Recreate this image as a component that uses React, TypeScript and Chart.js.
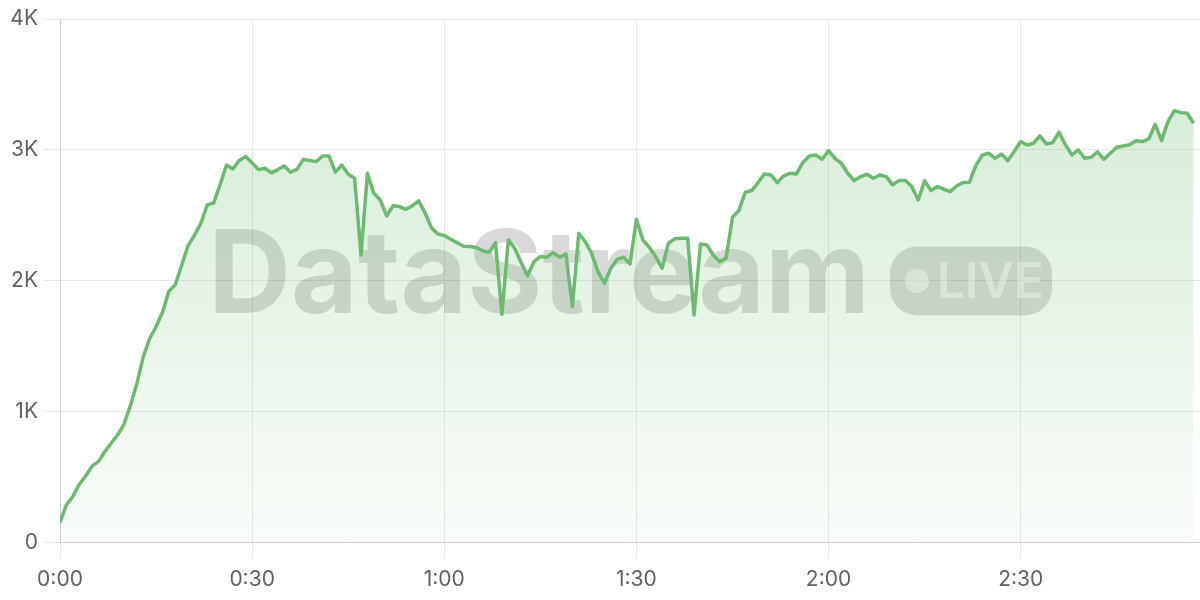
import React, { useEffect, useRef } from "react";
import { Chart, registerables } from "chart.js";

Chart.register(...registerables);

// Viewer count sampled once per second (0:00 .. 2:57)
const viewers: number[] = [
  155, 290, 354, 445, 510, 585, 620, 697, 760, 825,
  905, 1050, 1215, 1420, 1560, 1650, 1760, 1920, 1970, 2120,
  2270, 2350, 2440, 2580, 2595, 2735, 2885, 2855, 2920, 2950,
  2900, 2850, 2860, 2825, 2850, 2878, 2830, 2852, 2928, 2920,
  2911, 2954, 2954, 2830, 2885, 2814, 2784, 2198, 2822, 2670,
  2618, 2496, 2573, 2568, 2547, 2573, 2611, 2520, 2405, 2358,
  2346, 2318, 2292, 2265, 2262, 2255, 2230, 2218, 2292, 1745,
  2313, 2249, 2140, 2040, 2147, 2186, 2181, 2216, 2181, 2206,
  1804, 2364, 2300, 2211, 2071, 1982, 2097, 2165, 2181, 2130,
  2471, 2313, 2257, 2186, 2097, 2288, 2321, 2326, 2326, 1740,
  2282, 2275, 2198, 2147, 2173, 2486, 2537, 2677, 2690, 2751,
  2817, 2809, 2751, 2802, 2822, 2817, 2905, 2954, 2962, 2929,
  2995, 2936, 2898, 2822, 2766, 2796, 2814, 2784, 2809, 2796,
  2733, 2766, 2766, 2720, 2618, 2766, 2690, 2720, 2700, 2682,
  2725, 2751, 2753, 2880, 2960, 2975, 2936, 2969, 2918, 2990,
  3064, 3038, 3051, 3107, 3046, 3056, 3135, 3038, 2962, 3000,
  2936, 2944, 2985, 2929, 2975, 3020, 3030, 3040, 3071, 3064,
  3084, 3196, 3071, 3216, 3300, 3285, 3280, 3204,
];
const SAMPLE_SECONDS = 1;
const seconds: number[] = viewers.map((_, i) => i * SAMPLE_SECONDS);

const X_MAX = 178;
const X_STEP = 30;
const Y_MAX = 4000;
const Y_STEP = 1000;

const WATERMARK_TEXT = "DataStream";
const BADGE_TEXT = "LIVE";

const GREEN = "rgb(108,186,112)";
const GRID = "#e7e7e7";
const BORDER = "#cdcdcd";
const TICK_COLOR = "#616161";

const fmtTime = (v: number) => {
  const m = Math.floor(v / 60);
  const s = Math.round(v % 60);
  return `${m}:${s.toString().padStart(2, "0")}`;
};
const fmtK = (v: number) => (v === 0 ? "0" : `${v / 1000}K`);

const watermarkPlugin = {
  id: "watermark",
  beforeDatasetsDraw(chart: any) {
    const { ctx, chartArea } = chart;
    if (!chartArea) return;
    const cx = (chartArea.left + chartArea.right) / 2;
    const cy = (chartArea.top + chartArea.bottom) / 2;
    ctx.save();
    ctx.font = "bold 115px Inter";
    const wText = ctx.measureText(WATERMARK_TEXT).width;
    const gap = 20;
    const pillW = 162;
    const pillH = 69;
    const total = wText + gap + pillW;
    const startX = cx - total / 2;
    ctx.fillStyle = "rgba(0,0,0,0.15)";
    ctx.textAlign = "left";
    ctx.textBaseline = "alphabetic";
    ctx.fillText(WATERMARK_TEXT, startX, cy + 32);
    // pill
    const px = startX + wText + gap;
    const py = cy - pillH / 2;
    ctx.beginPath();
    ctx.roundRect(px, py, pillW, pillH, 27);
    ctx.fill();
    // dot + text knocked lighter
    ctx.fillStyle = "rgba(255,255,255,0.55)";
    ctx.beginPath();
    ctx.arc(px + 27, cy, 12, 0, Math.PI * 2);
    ctx.fill();
    ctx.font = "600 49px Inter";
    ctx.fillText(BADGE_TEXT, px + 47, cy + 17);
    ctx.restore();
  },
};

export default function App() {
  const ref = useRef<HTMLCanvasElement | null>(null);

  useEffect(() => {
    document.body.style.margin = "0";
    if (!ref.current) return;
    const chart = new Chart(ref.current, {
      type: "line",
      data: {
        labels: seconds,
        datasets: [
          {
            data: viewers,
            borderColor: GREEN,
            borderWidth: 3.5,
            tension: 0,
            pointRadius: 0,
            borderJoinStyle: "round",
            fill: "origin",
            backgroundColor: (c: any) => {
              const { chart } = c;
              const area = chart.chartArea;
              if (!area) return "rgba(102,187,106,0.15)";
              const g = chart.ctx.createLinearGradient(0, area.top, 0, area.bottom);
              g.addColorStop(0, "rgba(102,187,106,0.30)");
              g.addColorStop(1, "rgba(102,187,106,0.04)");
              return g;
            },
          },
        ],
      },
      options: {
        animation: false,
        responsive: true,
        maintainAspectRatio: false,
        layout: { padding: { top: 19, right: 0, bottom: 0, left: 0 } },
        plugins: {
          legend: { display: false },
          tooltip: { enabled: false },
        },
        scales: {
          x: {
            type: "linear",
            min: 0,
            max: X_MAX,
            afterBuildTicks: (scale: any) => {
              scale.ticks = scale.ticks.filter((t: any) => t.value % X_STEP === 0);
            },
            ticks: {
              stepSize: X_STEP,
              padding: 8,
              color: TICK_COLOR,
              font: { family: "Inter", size: 21 },
              maxRotation: 0,
              callback: (v: any) => fmtTime(Number(v)),
            },
            grid: { color: GRID, tickColor: GRID, tickLength: 16, lineWidth: 1 },
            border: { color: BORDER, width: 1 },
          },
          y: {
            min: 0,
            max: Y_MAX,
            afterFit: (scale: any) => {
              scale.width = 60;
            },
            ticks: {
              stepSize: Y_STEP,
              padding: 6,
              color: TICK_COLOR,
              font: { family: "Inter", size: 21 },
              callback: (v: any) => fmtK(Number(v)),
            },
            grid: { color: GRID, tickColor: GRID, tickLength: 16, lineWidth: 1 },
            border: { color: BORDER, width: 1 },
          },
        },
      },
      plugins: [watermarkPlugin],
    });
    return () => chart.destroy();
  }, []);

  return (
    <div style={{ position: "fixed", left: 0, top: 0, width: 1200, height: 600 }}>
      <canvas ref={ref} />
    </div>
  );
}
